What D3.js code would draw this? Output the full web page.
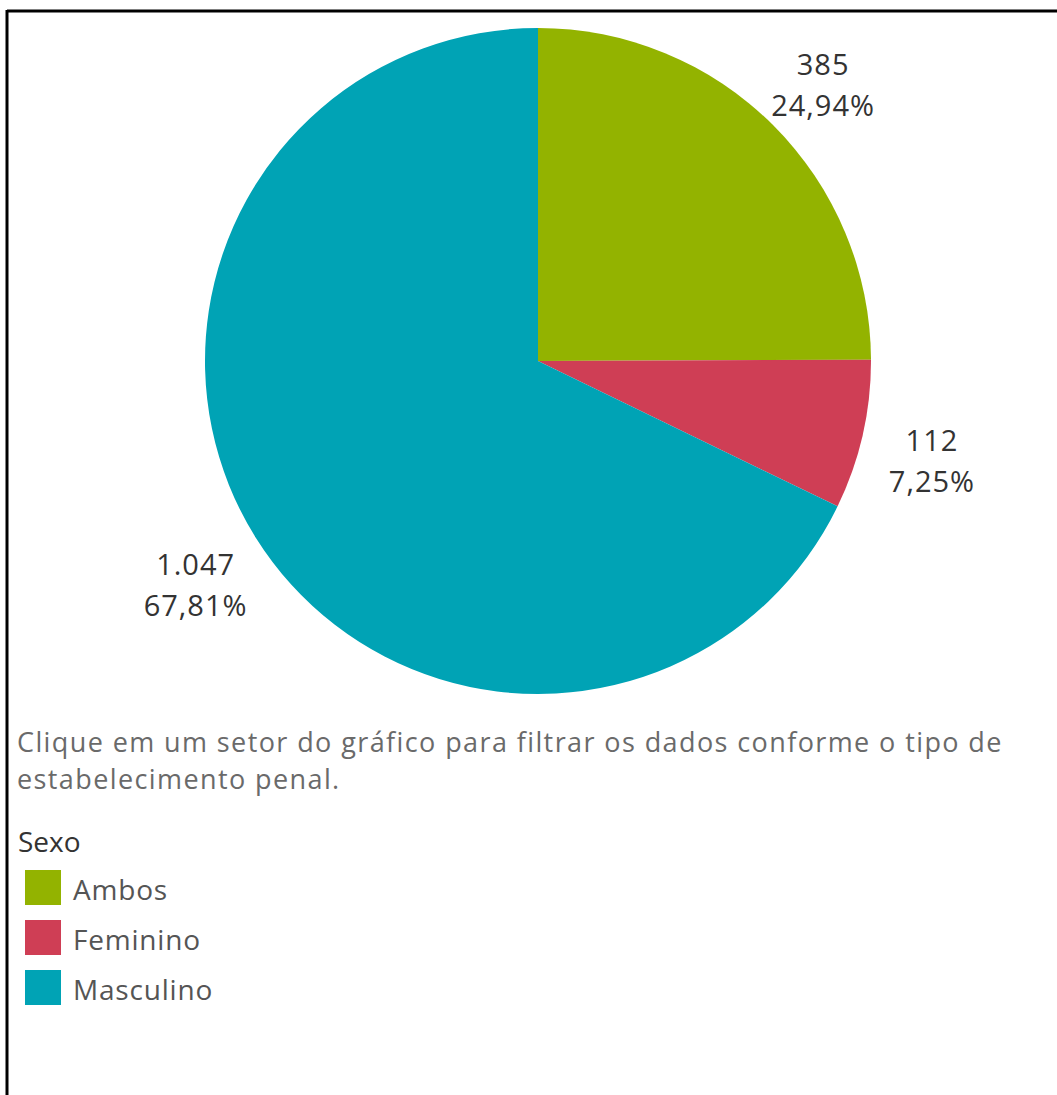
<!DOCTYPE html>
<html>
<head>
<meta charset="utf-8">
<script src="https://cdn.jsdelivr.net/npm/d3@7"></script>
<style>
  html, body { margin: 0; padding: 0; background: #fff; }
  svg { display: block; font-family: "Open Sans", sans-serif; }
</style>
</head>
<body>
<svg id="chart" width="1057" height="1095"></svg>
<script>
// data
const categories = ["Ambos", "Feminino", "Masculino"];
const counts = [385, 112, 1047];
const countLabels = ["385", "112", "1.047"];
const pctLabels = ["24,94%", "7,25%", "67,81%"];
const colors = ["#93b300", "#cf3e55", "#00a3b5"];

const caption = [
  "Clique em um setor do gráfico para filtrar os dados conforme o tipo de",
  "estabelecimento penal."
];
const legendTitle = "Sexo";

const svg = d3.select("#chart");

// frame (top and left border)
svg.append("line").attr("x1", 7).attr("x2", 1057).attr("y1", 11).attr("y2", 11)
  .attr("stroke", "#000").attr("stroke-width", 3);
svg.append("line").attr("x1", 7).attr("x2", 7).attr("y1", 10).attr("y2", 1095)
  .attr("stroke", "#000").attr("stroke-width", 3);

// pie
const cx = 538, cy = 361, R = 333;
const data = categories.map((c, i) => ({ cat: c, value: counts[i], i }));
const pie = d3.pie().sort(null).value(d => d.value);
const arcs = pie(data);
const arc = d3.arc().innerRadius(0).outerRadius(R);
const labelArc = d3.arc().innerRadius(404).outerRadius(404);

const color = d3.scaleOrdinal().domain(categories).range(colors);

const g = svg.append("g").attr("transform", `translate(${cx},${cy})`);
g.selectAll("path.slice")
  .data(arcs)
  .join("path")
  .attr("class", "slice")
  .attr("d", arc)
  .attr("fill", d => color(d.data.cat));

const lbl = g.selectAll("text.lbl")
  .data(arcs)
  .join("text")
  .attr("class", "lbl")
  .attr("text-anchor", "middle")
  .attr("font-size", 29)
  .attr("letter-spacing", 1)
  .attr("fill", "#333")
  .attr("transform", d => {
    const [x, y] = labelArc.centroid(d);
    return `translate(${x},${y})`;
  });
lbl.append("tspan").attr("x", 0).attr("y", 0).text(d => countLabels[d.data.i]);
lbl.append("tspan").attr("x", 0).attr("y", 41).text(d => pctLabels[d.data.i]);

// caption
svg.append("g").selectAll("text")
  .data(caption)
  .join("text")
  .attr("x", 17)
  .attr("y", (d, i) => 752 + i * 37)
  .attr("font-size", 27)
  .attr("letter-spacing", 1.4)
  .attr("fill", "#6a6a6a")
  .text(d => d);

// legend
svg.append("text").attr("x", 18).attr("y", 852)
  .attr("font-size", 28).attr("fill", "#333").text(legendTitle);

const leg = svg.append("g").selectAll("g")
  .data(categories)
  .join("g")
  .attr("transform", (d, i) => `translate(25,${870 + i * 50})`);
leg.append("rect").attr("width", 36).attr("height", 35).attr("fill", d => color(d));
leg.append("text").attr("x", 48).attr("y", 30)
  .attr("font-size", 28).attr("letter-spacing", 0.8)
  .attr("fill", "#555").text(d => d);
</script>
</body>
</html>
